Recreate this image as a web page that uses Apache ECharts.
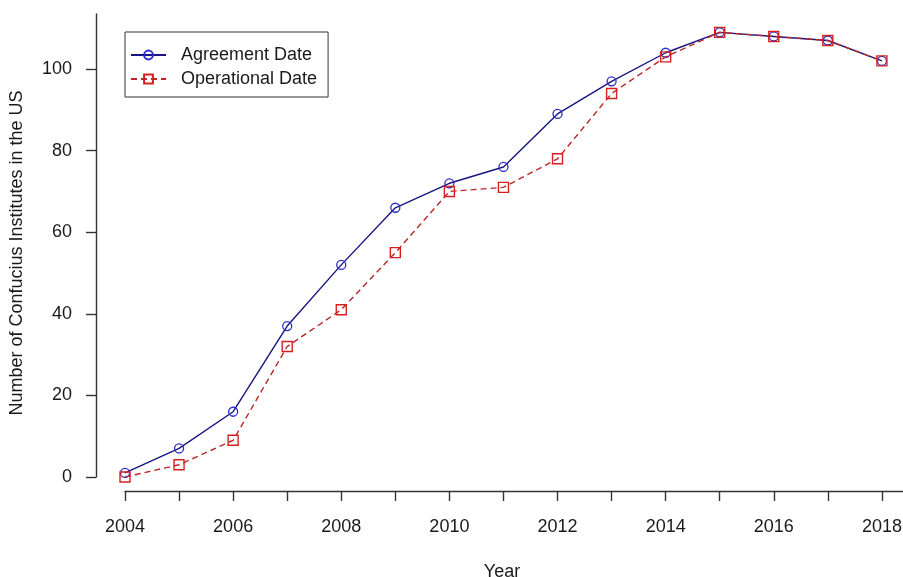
<!DOCTYPE html>
<html>
<head>
<meta charset="utf-8">
<title>Confucius Institutes in the US</title>
<script src="https://cdn.jsdelivr.net/npm/echarts@6/dist/echarts.min.js"></script>
<style>
  html, body { margin: 0; padding: 0; background: #fff; }
  #chart { width: 903px; height: 577px; }
</style>
</head>
<body>
<div id="chart"></div>
<script>
// Years covered by the count
const years = [2004, 2005, 2006, 2007, 2008, 2009, 2010, 2011, 2012, 2013, 2014, 2015, 2016, 2017, 2018];
// Institutes counted by the date the agreement was signed
const agreementCounts = [1, 7, 16, 37, 52, 66, 72, 76, 89, 97, 104, 109, 108, 107, 102];
// Institutes counted by the date they became operational
const operationalCounts = [0, 3, 9, 32, 41, 55, 70, 71, 78, 94, 103, 109, 108, 107, 102];
// Axis tick positions and labels
const xTicks = [2004, 2005, 2006, 2007, 2008, 2009, 2010, 2011, 2012, 2013, 2014, 2015, 2016, 2017, 2018];
const xLabels = [2004, 2006, 2008, 2010, 2012, 2014, 2016, 2018];
const yTicks = [0, 20, 40, 60, 80, 100];

const FONT = '"Liberation Sans", Arial, sans-serif';
const INK = '#1a1a1a';

const chart = echarts.init(document.getElementById('chart'), null, { renderer: 'canvas' });

chart.setOption({
  animation: false,
  backgroundColor: '#ffffff',
  textStyle: { fontFamily: FONT, color: INK },
  grid: { left: 125, right: 0, top: 14, bottom: 100, containLabel: false, outerBoundsMode: 'none' },
  legend: {
    orient: 'vertical',
    left: 125,
    top: 32,
    padding: [14, 11, 9, 5],
    itemGap: 6,
    itemWidth: 35,
    itemHeight: 11,
    borderColor: '#333',
    borderWidth: 1,
    borderRadius: 0,
    textStyle: { fontFamily: FONT, fontSize: 18, color: INK, lineHeight: 18, padding: [0, 0, 0, 10] },
    data: ['Agreement Date', 'Operational Date']
  },
  xAxis: {
    type: 'value',
    min: 2004,
    max: 2018.39,
    interval: 1,
    offset: 14,
    name: 'Year',
    nameLocation: 'middle',
    nameGap: 72,
    nameTextStyle: { fontFamily: FONT, fontSize: 18, color: INK, padding: [0, 24, 0, 0] },
    axisLine: { show: true, onZero: false, lineStyle: { color: '#333', width: 1.4 } },
    axisTick: { show: true, length: 10, customValues: xTicks, lineStyle: { color: '#333', width: 1.4 } },
    axisLabel: {
      customValues: xLabels,
      margin: 27,
      fontFamily: FONT, fontSize: 18, color: INK,
      formatter: v => String(v)
    },
    splitLine: { show: false }
  },
  yAxis: {
    type: 'value',
    min: 0,
    max: 113.5,
    interval: 20,
    offset: 29,
    name: 'Number of Confucius Institutes in the US',
    nameLocation: 'middle',
    nameRotate: 90,
    nameGap: 70,
    nameTextStyle: { fontFamily: FONT, fontSize: 18, color: INK, padding: [0, 15, 0, 0] },
    axisLine: { show: true, lineStyle: { color: '#333', width: 1.4 } },
    axisTick: { show: true, length: 10, customValues: yTicks, lineStyle: { color: '#333', width: 1.4 } },
    axisLabel: {
      customValues: yTicks,
      margin: 24,
      fontFamily: FONT, fontSize: 18, color: INK
    },
    splitLine: { show: false }
  },
  series: [
    {
      name: 'Agreement Date',
      type: 'line',
      data: years.map((y, i) => [y, agreementCounts[i]]),
      symbol: 'circle',
      symbolSize: 9,
      showAllSymbol: true,
      lineStyle: { color: '#161680', width: 1.4 },
      itemStyle: { color: 'rgba(255,255,255,0)', borderColor: '#2a2acc', borderWidth: 1.3 },
      z: 2
    },
    {
      name: 'Operational Date',
      type: 'line',
      data: years.map((y, i) => [y, operationalCounts[i]]),
      symbol: 'rect',
      symbolSize: 10,
      showAllSymbol: true,
      lineStyle: { color: '#b82828', width: 1.4, type: [6, 4] },
      itemStyle: { color: 'rgba(255,255,255,0)', borderColor: '#d62020', borderWidth: 1.4 },
      z: 3
    }
  ]
});
</script>
</body>
</html>
